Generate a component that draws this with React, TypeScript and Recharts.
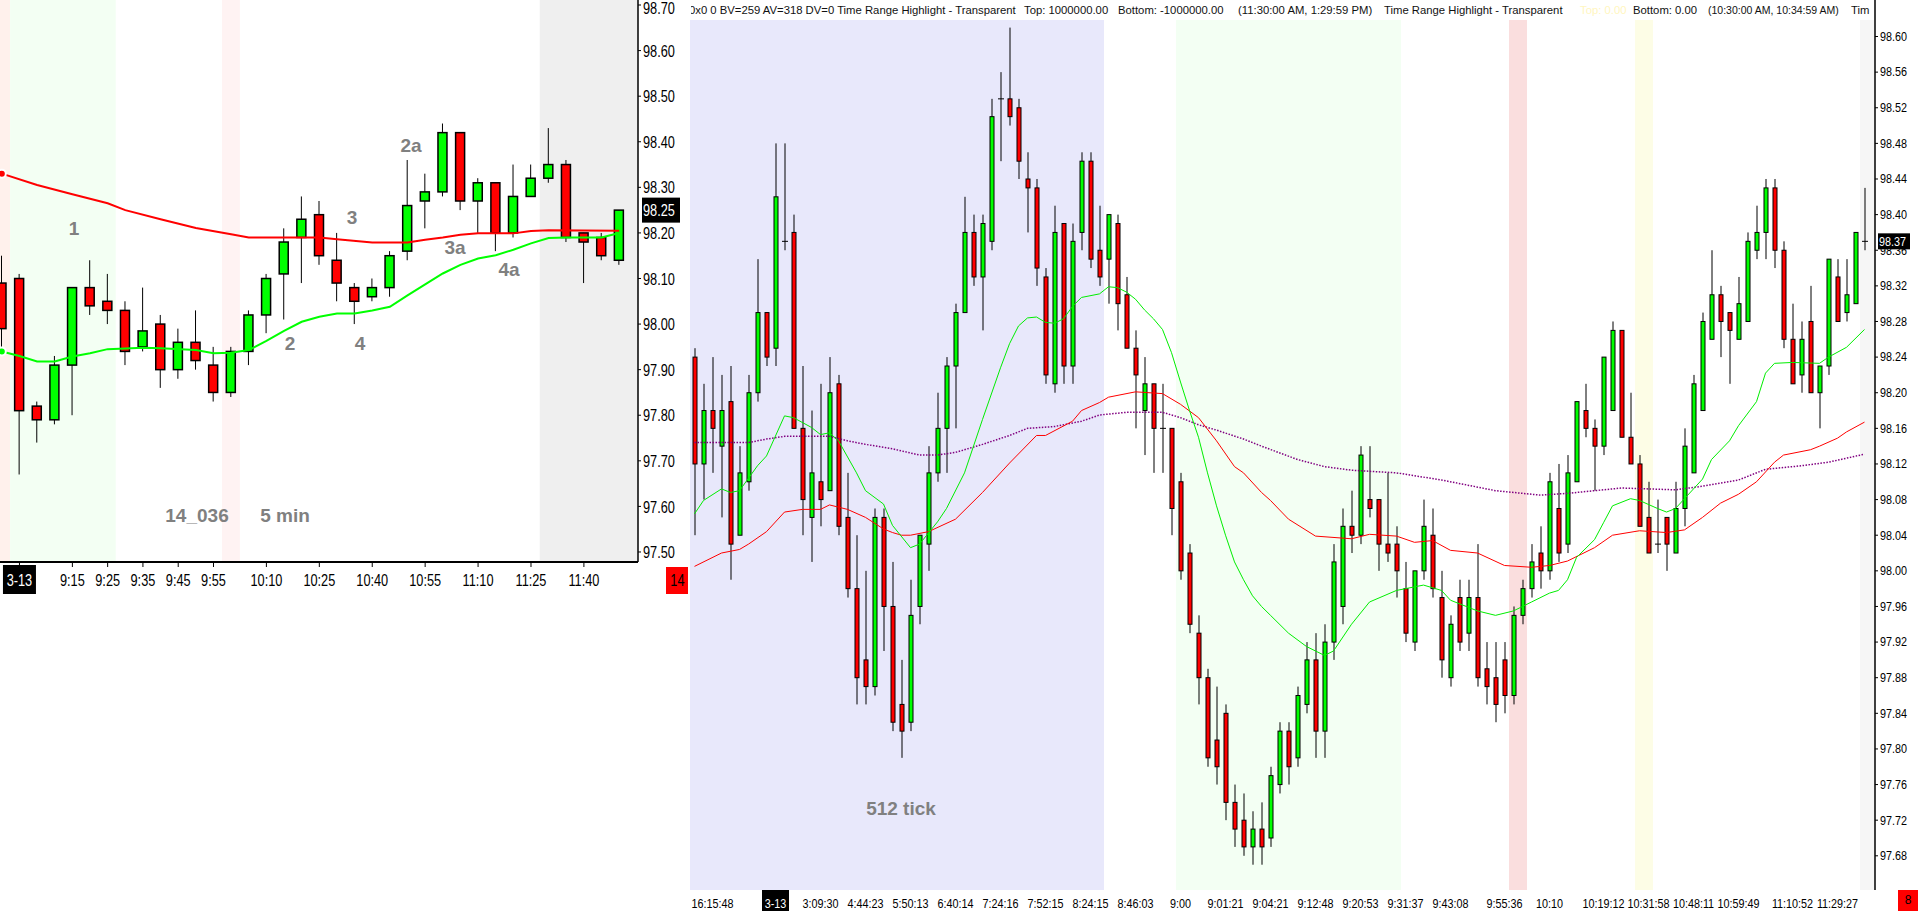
import React from "react";
import {
  Bar,
  ComposedChart,
  Line,
  ReferenceArea,
  ReferenceLine,
  XAxis,
  YAxis,
} from "recharts";

// ── Left pane: 5 min bars, 8:55 → 11:50 ── [open, high, low, close]
const leftBars: [number, number, number, number][] = [
  [98.09, 98.15, 97.95, 97.99], [98.10, 98.11, 97.67, 97.81], [97.82, 97.83, 97.74, 97.79],
  [97.79, 97.93, 97.78, 97.91], [97.91, 98.08, 97.80, 98.08], [98.08, 98.14, 98.02, 98.04],
  [98.05, 98.11, 98.00, 98.03], [98.03, 98.05, 97.91, 97.94], [97.95, 98.08, 97.94, 97.985],
  [98.00, 98.02, 97.86, 97.90], [97.90, 97.99, 97.88, 97.96], [97.96, 98.03, 97.90, 97.92],
  [97.91, 97.95, 97.83, 97.85], [97.85, 97.95, 97.84, 97.94], [97.94, 98.03, 97.91, 98.02],
  [98.02, 98.11, 97.98, 98.10], [98.11, 98.21, 98.01, 98.18], [98.19, 98.28, 98.09, 98.23],
  [98.24, 98.27, 98.13, 98.15], [98.14, 98.20, 98.05, 98.09], [98.08, 98.09, 98.00, 98.05],
  [98.06, 98.10, 98.05, 98.08], [98.08, 98.16, 98.06, 98.15], [98.16, 98.36, 98.14, 98.26],
  [98.27, 98.33, 98.21, 98.29], [98.29, 98.44, 98.28, 98.42], [98.42, 98.42, 98.25, 98.27],
  [98.27, 98.32, 98.20, 98.31], [98.31, 98.31, 98.16, 98.20], [98.20, 98.35, 98.19, 98.28],
  [98.28, 98.35, 98.28, 98.32], [98.32, 98.43, 98.31, 98.35], [98.35, 98.36, 98.18, 98.19],
  [98.20, 98.20, 98.09, 98.18], [98.19, 98.20, 98.14, 98.15], [98.14, 98.25, 98.13, 98.25],
];

const leftTickIdx = [1, 4, 6, 8, 10, 12, 15, 18, 21, 24, 27, 30, 33];
const leftTickText = ["3-13", "9:15", "9:25", "9:35", "9:45", "9:55", "10:10", "10:25", "10:40", "10:55", "11:10", "11:25", "11:40"];
const leftPriceTicks = [98.7, 98.6, 98.5, 98.4, 98.3, 98.2, 98.1, 98.0, 97.9, 97.8, 97.7, 97.6, 97.5];

// moving averages: [bar, value]
const leftRedMa: [number, number][] = [
  [0, 98.33], [2, 98.305], [4, 98.285], [6, 98.265], [7, 98.25], [9, 98.23], [11, 98.211],
  [13, 98.197], [14, 98.19], [18, 98.19], [19, 98.186], [21, 98.179], [23, 98.179], [24, 98.185],
  [25, 98.19], [26, 98.196], [27, 98.199], [29, 98.199], [30, 98.204], [31, 98.206], [35, 98.205],
];
const leftGreenMa: [number, number][] = [
  [0, 97.94], [1, 97.93], [2, 97.918], [3, 97.918], [4, 97.929], [5, 97.936], [6, 97.945],
  [8, 97.948], [9, 97.947], [11, 97.943], [12, 97.936], [13, 97.937], [14, 97.943], [15, 97.963],
  [16, 97.985], [17, 98.005], [18, 98.016], [19, 98.023], [20, 98.023], [21, 98.03], [22, 98.038],
  [23, 98.063], [24, 98.087], [25, 98.111], [26, 98.13], [27, 98.144], [28, 98.151], [29, 98.163],
  [30, 98.177], [31, 98.189], [32, 98.19], [34, 98.19], [35, 98.2],
];
// time range highlights, in bar units
const leftZones: [number, number][] = [[-0.5, 0.47], [0.47, 6.46], [12.48, 13.5], [30.5, 36.07]];
const leftZoneFill = ["#fff1ec", "#f3fff3", "#fff3f3", "#efefef"];

// ── Right pane: 512 tick bars ──
const rightBars: [number, number, number, number][] = [
  [98.24, 98.25, 98.04, 98.12], [98.12, 98.21, 98.08, 98.18], [98.18, 98.24, 98.11, 98.16],
  [98.14, 98.22, 98.06, 98.18], [98.19, 98.23, 97.99, 98.03], [98.04, 98.14, 98.04, 98.11],
  [98.10, 98.22, 98.09, 98.20], [98.20, 98.35, 98.19, 98.29], [98.29, 98.29, 98.23, 98.24],
  [98.25, 98.48, 98.23, 98.42], [98.37, 98.48, 98.36, 98.37], [98.38, 98.40, 98.16, 98.16],
  [98.16, 98.23, 98.04, 98.08], [98.06, 98.18, 98.01, 98.11], [98.10, 98.21, 98.05, 98.08],
  [98.09, 98.24, 98.09, 98.20], [98.21, 98.22, 98.04, 98.05], [98.06, 98.11, 97.97, 97.98],
  [97.98, 98.04, 97.85, 97.88], [97.90, 98.00, 97.85, 97.87], [97.87, 98.07, 97.86, 98.06],
  [98.06, 98.07, 97.91, 97.96], [97.96, 98.01, 97.82, 97.83], [97.85, 97.90, 97.79, 97.82],
  [97.83, 97.99, 97.82, 97.95], [97.96, 98.04, 97.94, 98.04], [98.03, 98.14, 98.00, 98.11],
  [98.11, 98.20, 98.10, 98.16], [98.16, 98.24, 98.11, 98.23], [98.23, 98.30, 98.16, 98.29],
  [98.29, 98.42, 98.29, 98.38], [98.38, 98.40, 98.32, 98.33], [98.33, 98.40, 98.27, 98.39],
  [98.37, 98.53, 98.36, 98.51], [98.53, 98.56, 98.46, 98.53], [98.53, 98.61, 98.50, 98.51],
  [98.52, 98.53, 98.44, 98.46], [98.44, 98.47, 98.38, 98.43], [98.43, 98.44, 98.32, 98.34],
  [98.33, 98.34, 98.21, 98.22], [98.21, 98.41, 98.20, 98.38], [98.39, 98.39, 98.21, 98.23],
  [98.23, 98.39, 98.21, 98.37], [98.38, 98.47, 98.36, 98.46], [98.46, 98.47, 98.34, 98.35],
  [98.36, 98.41, 98.32, 98.33], [98.35, 98.40, 98.30, 98.40], [98.39, 98.40, 98.27, 98.30],
  [98.31, 98.33, 98.25, 98.25], [98.25, 98.27, 98.16, 98.22], [98.18, 98.24, 98.13, 98.21],
  [98.21, 98.21, 98.11, 98.16], [98.16, 98.21, 98.11, 98.16], [98.16, 98.16, 98.04, 98.07],
  [98.10, 98.11, 97.99, 98.00], [98.02, 98.03, 97.93, 97.94], [97.93, 97.95, 97.85, 97.88],
  [97.88, 97.89, 97.78, 97.79], [97.81, 97.87, 97.76, 97.78], [97.84, 97.85, 97.72, 97.74],
  [97.74, 97.76, 97.69, 97.71], [97.72, 97.75, 97.68, 97.69], [97.69, 97.73, 97.67, 97.71],
  [97.71, 97.74, 97.67, 97.69], [97.70, 97.78, 97.69, 97.77], [97.76, 97.83, 97.75, 97.82],
  [97.82, 97.83, 97.76, 97.78], [97.79, 97.87, 97.78, 97.86], [97.85, 97.92, 97.84, 97.90],
  [97.90, 97.93, 97.79, 97.82], [97.82, 97.94, 97.79, 97.92], [97.92, 98.03, 97.90, 98.01],
  [97.96, 98.07, 97.94, 98.05], [98.05, 98.09, 98.02, 98.04], [98.04, 98.14, 98.03, 98.13],
  [98.08, 98.14, 98.06, 98.07], [98.08, 98.08, 98.00, 98.03], [98.03, 98.11, 98.01, 98.02],
  [98.03, 98.05, 97.97, 98.00], [97.98, 98.01, 97.92, 97.93], [97.92, 98.00, 97.91, 98.00],
  [98.00, 98.08, 97.99, 98.05], [98.04, 98.07, 97.97, 97.98], [97.97, 98.00, 97.88, 97.90],
  [97.88, 97.95, 97.87, 97.94], [97.97, 97.99, 97.91, 97.92], [97.93, 97.99, 97.91, 97.97],
  [97.97, 98.03, 97.87, 97.88], [97.89, 97.92, 97.85, 97.87], [97.88, 97.92, 97.83, 97.85],
  [97.90, 97.92, 97.84, 97.86], [97.86, 97.96, 97.85, 97.95], [97.95, 97.99, 97.94, 97.98],
  [97.98, 98.03, 97.97, 98.01], [98.02, 98.05, 97.98, 98.00], [98.00, 98.11, 97.99, 98.10],
  [98.07, 98.12, 98.01, 98.02], [98.03, 98.13, 98.02, 98.11], [98.10, 98.19, 98.10, 98.19],
  [98.18, 98.21, 98.15, 98.16], [98.16, 98.17, 98.09, 98.14], [98.14, 98.24, 98.13, 98.24],
  [98.18, 98.28, 98.18, 98.27], [98.27, 98.27, 98.15, 98.15], [98.15, 98.20, 98.12, 98.12],
  [98.12, 98.13, 98.05, 98.05], [98.06, 98.10, 98.02, 98.02], [98.03, 98.08, 98.02, 98.03],
  [98.06, 98.06, 98.00, 98.03], [98.02, 98.10, 98.02, 98.07], [98.07, 98.16, 98.05, 98.14],
  [98.11, 98.22, 98.11, 98.21], [98.18, 98.29, 98.18, 98.28], [98.26, 98.36, 98.26, 98.31],
  [98.31, 98.32, 98.24, 98.28], [98.29, 98.29, 98.21, 98.27], [98.26, 98.33, 98.26, 98.30],
  [98.28, 98.38, 98.28, 98.37], [98.36, 98.41, 98.35, 98.38], [98.38, 98.44, 98.35, 98.43],
  [98.43, 98.44, 98.34, 98.36], [98.36, 98.37, 98.25, 98.26], [98.26, 98.30, 98.21, 98.21],
  [98.22, 98.28, 98.20, 98.26], [98.28, 98.32, 98.20, 98.20], [98.20, 98.23, 98.16, 98.23],
  [98.23, 98.35, 98.22, 98.35], [98.33, 98.35, 98.28, 98.28], [98.29, 98.35, 98.28, 98.31],
  [98.30, 98.38, 98.30, 98.38], [98.37, 98.43, 98.36, 98.37],
];

const rightTickIdx = [2, 9, 14, 19, 24, 29, 34, 39, 44, 49, 54, 59, 64, 69, 74, 79, 84, 90, 95, 101, 106, 111, 116, 122, 127];
const rightTickText = [
  "16:15:48", "3-13", "3:09:30", "4:44:23", "5:50:13", "6:40:14", "7:24:16", "7:52:15", "8:24:15",
  "8:46:03", "9:00", "9:01:21", "9:04:21", "9:12:48", "9:20:53", "9:31:37", "9:43:08", "9:55:36",
  "10:10", "10:19:12", "10:31:58", "10:48:11", "10:59:49", "11:10:52", "11:29:27",
];
const rightPriceTicks = [
  98.6, 98.56, 98.52, 98.48, 98.44, 98.4, 98.36, 98.32, 98.28, 98.24, 98.2, 98.16,
  98.12, 98.08, 98.04, 98.0, 97.96, 97.92, 97.88, 97.84, 97.8, 97.76, 97.72, 97.68,
];

const rightGreenMa: [number, number][] = [
  [0, 98.064], [1, 98.079], [3, 98.092], [4, 98.088], [5, 98.09], [7, 98.118], [8, 98.129],
  [10, 98.174], [11, 98.172], [13, 98.161], [14, 98.153], [15, 98.155], [16, 98.146], [18, 98.11],
  [19, 98.09], [21, 98.075], [22, 98.051], [24, 98.026], [25, 98.03], [27, 98.055], [28, 98.07],
  [30, 98.11], [32, 98.17], [34, 98.228], [35, 98.255], [36, 98.275], [37, 98.284], [38, 98.285],
  [39, 98.279], [40, 98.278], [41, 98.283], [42, 98.297], [43, 98.307], [45, 98.311], [46, 98.319],
  [47, 98.318], [48, 98.313], [49, 98.305], [50, 98.293], [51, 98.283], [52, 98.271], [53, 98.245],
  [54, 98.212], [55, 98.18], [56, 98.15], [57, 98.11], [58, 98.073], [59, 98.04], [60, 98.01],
  [61, 97.99], [62, 97.972], [63, 97.96], [64, 97.95], [66, 97.93], [68, 97.915], [70, 97.905],
  [71, 97.91], [73, 97.94], [75, 97.965], [78, 97.978], [81, 97.984], [83, 97.978], [84, 97.967],
  [87, 97.955], [89, 97.95], [91, 97.955], [93, 97.965], [95, 97.975], [96, 97.978], [97, 97.99],
  [98, 98.015], [100, 98.035], [101, 98.054], [102, 98.073], [104, 98.081], [105, 98.079],
  [107, 98.07], [108, 98.066], [109, 98.07], [110, 98.081], [112, 98.103], [113, 98.125],
  [115, 98.146], [116, 98.163], [118, 98.19], [119, 98.222], [120, 98.233], [122, 98.234],
  [125, 98.233], [126, 98.24], [128, 98.251], [130, 98.271],
];
const rightRedMa: [number, number][] = [
  [0, 98.005], [3, 98.02], [5, 98.024], [6, 98.03], [8, 98.044], [10, 98.066], [12, 98.069],
  [14, 98.069], [15, 98.074], [17, 98.069], [19, 98.06], [21, 98.047], [22, 98.043], [23, 98.04],
  [24, 98.04], [26, 98.044], [29, 98.058], [32, 98.088], [35, 98.121], [38, 98.152], [39, 98.152],
  [42, 98.168], [43, 98.18], [45, 98.189], [46, 98.195], [49, 98.201], [52, 98.199], [54, 98.187],
  [56, 98.172], [58, 98.146], [60, 98.117], [61, 98.11], [63, 98.088], [64, 98.079], [66, 98.058],
  [69, 98.039], [73, 98.036], [75, 98.041], [78, 98.039], [80, 98.032], [82, 98.034], [84, 98.023],
  [87, 98.02], [90, 98.006], [93, 98.004], [95, 98.006], [97, 98.011], [100, 98.026], [102, 98.04],
  [105, 98.045], [108, 98.043], [110, 98.046], [112, 98.06], [114, 98.076], [116, 98.086],
  [118, 98.1], [120, 98.122], [121, 98.13], [124, 98.136], [125, 98.14], [127, 98.149],
  [128, 98.156], [130, 98.167],
];
const rightPurpleMa: [number, number][] = [
  [0, 98.144], [6, 98.144], [8, 98.148], [10, 98.151], [15, 98.151], [17, 98.146], [19, 98.142],
  [22, 98.137], [25, 98.13], [27, 98.13], [29, 98.133], [32, 98.142], [35, 98.152], [37, 98.16],
  [40, 98.162], [43, 98.168], [45, 98.175], [48, 98.178], [52, 98.178], [54, 98.172], [56, 98.164],
  [58, 98.158], [61, 98.148], [63, 98.14], [67, 98.125], [70, 98.117], [73, 98.113], [78, 98.11],
  [83, 98.102], [89, 98.09], [94, 98.085], [97, 98.087], [103, 98.093], [109, 98.091],
  [112, 98.095], [116, 98.102], [119, 98.114], [123, 98.118], [126, 98.122], [130, 98.131],
];
const rightZones: [number, number][] = [[-0.5, 45.5], [53.5, 78.5], [90.5, 92.5], [104.5, 106.5], [129.5, 131.17]];
const rightZoneFill = ["#e8e8fb", "#f3fff3", "#fadede", "#fdfde6", "#f6f6f6"];

const headerText = [
  "0x0 0 BV=259 AV=318 DV=0 Time Range Highlight - Transparent",
  "Top: 1000000.00",
  "Bottom: -1000000.00",
  "(11:30:00 AM, 1:29:59 PM)",
  "Time Range Highlight - Transparent",
  "Top: 0.00",
  "Bottom: 0.00",
  "(10:30:00 AM, 10:34:59 AM)",
  "Tim",
];
const headerX = [689, 1024, 1118, 1238, 1384, 1580, 1633, 1708, 1851];

const leftNotes = ["1", "2", "3", "4", "2a", "3a", "4a", "14_036", "5 min"];
const leftNoteAt = [[74, 229], [290, 344], [352, 218], [360, 344], [411, 146], [455, 248], [509, 270], [197, 516], [285, 516]];

const FONT = "'Liberation Sans', Arial, sans-serif";

function buildRows(
  bars: [number, number, number, number][],
  mas: Record<string, [number, number][]>
) {
  const rows: any[] = bars.map(([o, h, l, c], i) => ({ i, o, h, l, c, range: [l, h] }));
  Object.entries(mas).forEach(([key, pts]) => {
    rows.forEach((r) => (r[key] = null));
    pts.forEach(([i, v]) => (rows[i][key] = v));
  });
  return rows;
}

const leftRows = buildRows(leftBars, { red: leftRedMa, green: leftGreenMa });
const rightRows = buildRows(rightBars, { green: rightGreenMa, red: rightRedMa, purple: rightPurpleMa });

// ── Pieces ──
function Candle(props: any) {
  const { x, y, width, height, payload, body, edge } = props;
  if (!payload) return null;
  const { o, h, l, c } = payload;
  const top = Math.min(y, y + height);
  const span = Math.abs(height);
  const k = h > l ? span / (h - l) : 0;
  const yOf = (p: number) => top + (h - p) * k;
  const cx = x + width / 2;
  const yo = yOf(o);
  const yc = yOf(c);
  return (
    <g>
      <line x1={cx} x2={cx} y1={top} y2={top + span} stroke="#000" strokeWidth={1} />
      {o === c ? (
        <line x1={cx - body / 2 - 1} x2={cx + body / 2 + 1} y1={yo} y2={yo} stroke="#000" strokeWidth={1} />
      ) : (
        <rect
          x={cx - body / 2}
          y={Math.min(yo, yc)}
          width={body}
          height={Math.max(Math.abs(yo - yc), 1)}
          fill={c > o ? "#00ff00" : "#ff0000"}
          stroke="#000"
          strokeWidth={edge}
        />
      )}
    </g>
  );
}

function PriceTick(props: any) {
  const { x, y, payload, size, squeeze, minY = 0 } = props;
  return (
    <text
      x={0}
      y={0}
      transform={`translate(${x},${Math.max(y, minY)}) scale(${squeeze},1)`}
      dy="0.36em"
      textAnchor="start"
      fontFamily={FONT}
      fontSize={size}
      fill="#000"
    >
      {Number(payload.value).toFixed(2)}
    </text>
  );
}

function TimeTick(props: any) {
  const { x, y, payload, idx, text, size, squeeze, boxW, boxTop, boxH } = props;
  const at = idx.indexOf(payload.value);
  const label = at >= 0 ? text[at] : "";
  const isDate = label === "3-13";
  return (
    <g>
      {isDate && <rect x={x - boxW / 2} y={y + boxTop} width={boxW} height={boxH} fill="#000" />}
      <text
        x={0}
        y={0}
        transform={`translate(${x},${y}) scale(${squeeze},1)`}
        dy="0.71em"
        textAnchor="middle"
        fontFamily={FONT}
        fontSize={size}
        fill={isDate ? "#fff" : "#000"}
      >
        {label}
      </text>
    </g>
  );
}

function PriceTag(props: any) {
  const { viewBox, text, w, h, size, squeeze, dx } = props;
  if (!viewBox) return null;
  const x = viewBox.x + viewBox.width + dx;
  const y = viewBox.y;
  return (
    <g>
      <rect x={x} y={y - h / 2} width={w} height={h} fill="#000" />
      <text
        x={0}
        y={0}
        transform={`translate(${x + 1},${y}) scale(${squeeze},1)`}
        dy="0.36em"
        fontFamily={FONT}
        fontSize={size}
        fill="#fff"
      >
        {text}
      </text>
    </g>
  );
}

function LeftPane() {
  const last = leftBars[leftBars.length - 1][3];
  return (
    <ComposedChart width={705} height={602} data={leftRows} margin={{ top: 0, right: 0, bottom: 0, left: 0 }}>
      <XAxis
        xAxisId="cat"
        dataKey="i"
        type="category"
        ticks={leftTickIdx}
        interval={0}
        padding={{ left: 0, right: 10 }}
        height={40}
        tickSize={5}
        tickMargin={7}
        axisLine={{ stroke: "#000", strokeWidth: 2 }}
        tickLine={{ stroke: "#000" }}
        tick={<TimeTick idx={leftTickIdx} text={leftTickText} size={17} squeeze={0.75} boxW={33} boxTop={-9} boxH={29} />}
      />
      <XAxis xAxisId="pos" dataKey="i" type="number" domain={[-0.5, 36.07]} hide allowDataOverflow />
      <YAxis
        orientation="right"
        domain={[97.478, 98.711]}
        ticks={leftPriceTicks}
        interval={0}
        allowDataOverflow
        width={60}
        tickSize={3}
        tickMargin={2}
        axisLine={{ stroke: "#000", strokeWidth: 1.5 }}
        tickLine={{ stroke: "#000" }}
        tick={<PriceTick size={17} squeeze={0.75} minY={8} />}
      />
      {leftZones.map(([a, b], n) => (
        <ReferenceArea key={n} xAxisId="pos" x1={a} x2={b} fill={leftZoneFill[n]} fillOpacity={1} stroke="none" ifOverflow="hidden" />
      ))}
      <Bar
        xAxisId="cat"
        dataKey="range"
        barSize={9}
        isAnimationActive={false}
        shape={(p: any) => <Candle {...p} body={9} edge={1.5} />}
      />
      <Line xAxisId="cat" dataKey="red" stroke="#ff0000" strokeWidth={2} dot={false} connectNulls isAnimationActive={false} />
      <Line xAxisId="cat" dataKey="green" stroke="#00ff00" strokeWidth={2} dot={false} connectNulls isAnimationActive={false} />
      <ReferenceLine
        xAxisId="cat"
        y={last}
        stroke="none"
        label={(p: any) => <PriceTag viewBox={p.viewBox} text={last.toFixed(2)} w={38} h={25} size={17} squeeze={0.75} dx={4} />}
      />
    </ComposedChart>
  );
}

function RightPane() {
  const last = rightBars[rightBars.length - 1][3];
  return (
    <ComposedChart width={1228} height={912} data={rightRows} margin={{ top: 0, right: 0, bottom: 0, left: 0 }}>
      <XAxis
        xAxisId="cat"
        dataKey="i"
        type="category"
        ticks={rightTickIdx}
        interval={0}
        padding={{ left: 0, right: 6 }}
        height={22}
        tickSize={0}
        tickMargin={9}
        axisLine={false}
        tickLine={false}
        tick={<TimeTick idx={rightTickIdx} text={rightTickText} size={12} squeeze={0.9} boxW={27} boxTop={-9} boxH={21} />}
      />
      <XAxis xAxisId="pos" dataKey="i" type="number" domain={[-0.5, 131.17]} hide allowDataOverflow />
      <YAxis
        orientation="right"
        domain={[97.6416, 98.641]}
        ticks={rightPriceTicks}
        interval={0}
        allowDataOverflow
        width={43}
        tickSize={3}
        tickMargin={2}
        axisLine={{ stroke: "#000", strokeWidth: 1.5 }}
        tickLine={{ stroke: "#000" }}
        tick={<PriceTick size={12} squeeze={0.9} />}
      />
      {rightZones.map(([a, b], n) => (
        <ReferenceArea key={n} xAxisId="pos" x1={a} x2={b} y1={97.6416} y2={98.6185} fill={rightZoneFill[n]} fillOpacity={1} stroke="none" ifOverflow="hidden" />
      ))}
      <Bar
        xAxisId="cat"
        dataKey="range"
        barSize={4}
        isAnimationActive={false}
        shape={(p: any) => <Candle {...p} body={4} edge={1} />}
      />
      <Line xAxisId="cat" dataKey="purple" stroke="#800080" strokeWidth={1.5} strokeDasharray="1.5 1.5" dot={false} connectNulls isAnimationActive={false} />
      <Line xAxisId="cat" dataKey="red" stroke="#ff0000" strokeWidth={1} dot={false} connectNulls isAnimationActive={false} />
      <Line xAxisId="cat" dataKey="green" stroke="#00ee00" strokeWidth={1} dot={false} connectNulls isAnimationActive={false} />
      <ReferenceLine
        xAxisId="cat"
        y={last}
        stroke="none"
        label={(p: any) => <PriceTag viewBox={p.viewBox} text={last.toFixed(2)} w={32} h={16} size={12} squeeze={0.9} dx={3} />}
      />
    </ComposedChart>
  );
}

const noteStyle: React.CSSProperties = {
  position: "absolute",
  transform: "translate(-50%, -50%)",
  color: "#808080",
  fontWeight: 700,
  fontSize: 19,
  whiteSpace: "nowrap",
  fontFamily: FONT,
};

export default function App() {
  return (
    <div style={{ position: "absolute", left: 0, top: 0, width: 1918, height: 912, overflow: "hidden", background: "#fff", fontFamily: FONT }}>
      <div style={{ position: "absolute", left: -7, top: 0 }}>
        <LeftPane />
      </div>
      <div style={{ position: "absolute", left: 690, top: 0 }}>
        <RightPane />
      </div>

      {/* header strip of the tick chart */}
      <div style={{ position: "absolute", left: 691, top: 0, width: 1184, height: 20, overflow: "hidden" }}>
        {headerText.map((t, n) => (
          <span
            key={n}
            style={{
              position: "absolute",
              left: headerX[n] - 691,
              top: 4,
              fontSize: n === 7 ? 10.5 : 11.3,
              lineHeight: "13px",
              whiteSpace: "nowrap",
              color: n === 5 ? "#fff6c0" : "#111",
            }}
          >
            {t}
          </span>
        ))}
      </div>

      {leftNotes.map((t, n) => (
        <div key={n} style={{ ...noteStyle, left: leftNoteAt[n][0], top: leftNoteAt[n][1] }}>
          {t}
        </div>
      ))}
      <div style={{ ...noteStyle, left: 901, top: 809 }}>512 tick</div>

      <div style={{ position: "absolute", left: 666, top: 567, width: 22, height: 27, background: "#ff0000", color: "#000", fontSize: 17, lineHeight: "27px", textAlign: "center" }}>
        <span style={{ display: "inline-block", transform: "scaleX(0.75)" }}>14</span>
      </div>
      <div style={{ position: "absolute", left: 1898, top: 890, width: 20, height: 21, background: "#ff0000", color: "#000", fontSize: 12, lineHeight: "21px", textAlign: "center" }}>
        8
      </div>
    </div>
  );
}
